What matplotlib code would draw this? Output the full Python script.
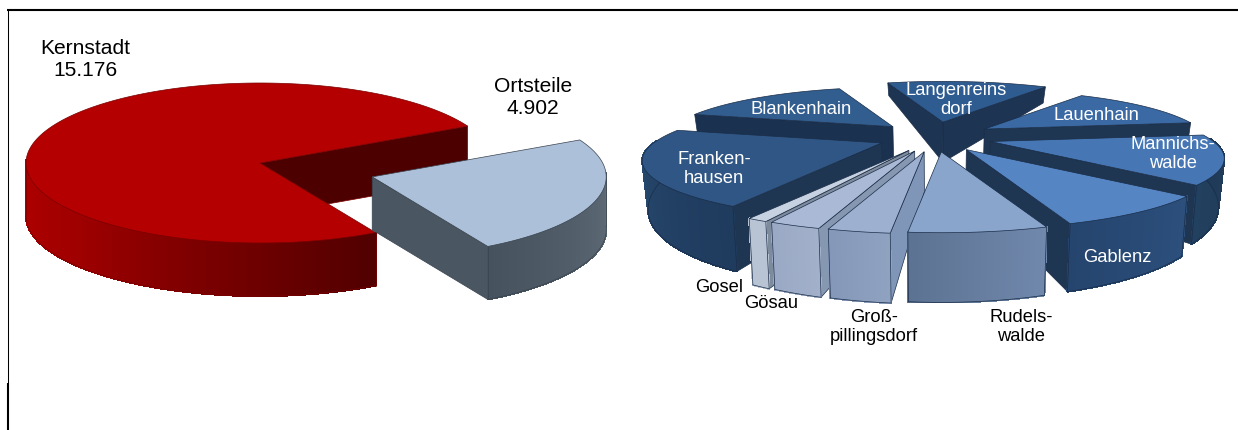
import numpy as np
import matplotlib
matplotlib.use("Agg")
import matplotlib.pyplot as plt
from matplotlib.colors import LinearSegmentedColormap as LSC
from matplotlib.collections import PolyCollection

plt.rcParams['font.family'] = ['Liberation Sans', 'DejaVu Sans']

# ---- data ----
main_labels = ["Ortsteile\n4.902", "Kernstadt\n15.176"]
main_values = [4902, 15176]
district_labels = ["Gosel", "Gösau", "Groß-\npillingsdorf", "Rudels-\nwalde", "Gablenz",
                   "Mannichs-\nwalde", "Lauenhain", "Langenreins\ndorf", "Blankenhain", "Franken-\nhausen"]
district_values = [48, 122, 143, 320, 402, 681, 661, 708, 776, 1041]

# ---- styles ----
main_top = ["#adc0da", "#b40000"]
main_cut = ["#4a5762", "#4d0000"]
main_rim = [["#46525d", "#5f6c78"], ["#b00000", "#a00000", "#780000", "#520000"]]
main_edge = ["#39434d", "#7a0000"]
main_explode = [(117, 49), (0, 0)]

district_top = ["#c6d1e1", "#aab9d6", "#9db0d0", "#8aa5cc", "#5585c3",
                "#4677b4", "#3a69a3", "#2f5c90", "#325d8f", "#2f5684"]
district_cut = ["#7e8b9c", "#8597b1", "#7f96b8", "#6f8ab0", "#1f3652",
                "#1f3652", "#1f3652", "#1d3452", "#1b3150", "#1f3652"]
district_rim = [["#b8c4d4", "#b8c4d4"], ["#99a8c4", "#a2b0ca"], ["#8497b8", "#8fa2c0"],
                ["#5c7292", "#7088ac"], ["#25456e", "#2c4f7c"], ["#22405f", "#1f3a58"],
                ["#1f3652", "#1f3652"], ["#1f3f66", "#2a5080"], ["#1f3652", "#1f3652"],
                ["#2f5684", "#244468", "#1f3b5e"]]
district_radius = [1.0, 1.0, 1.0, 0.99, 0.98, 0.93, 0.90, 0.96, 0.92, 0.95]
draw_order = [8, 7, 6, 5, 9, 4, 0, 1, 2, 3]

fig = plt.figure(figsize=(12.38, 4.30), dpi=100, facecolor="white")
ax = fig.add_axes([0, 0, 1, 1])
ax.set_xlim(0, 1238)
ax.set_ylim(430, 0)
ax.axis("off")


def draw_pie(values, start, centre, rx, ry, persp, d0, slope, shrink, explode, radius,
             tops, cuts, rims, edges, order):
    angles = start + np.concatenate([[0], np.cumsum(values)]) / np.sum(values) * 360.0
    cx, cy = centre

    def top_pt(apex, x, y):
        s = 1.0 / (1.0 + persp * y)
        return apex[0] + rx * x * s, apex[1] - ry * y * s

    def bot_pt(px, py, y):
        return cx + (px - cx) * shrink, py + d0 * (1.0 - slope * y)

    for i in order:
        a1, a2 = angles[i], angles[i + 1]
        mid = np.radians((a1 + a2) / 2)
        apex = (cx + explode[i][0] * np.cos(mid), cy - explode[i][1] * np.sin(mid))
        r = radius[i]
        th = np.radians(np.linspace(a1, a2, 160))
        xs, ys = r * np.cos(th), r * np.sin(th)
        P = [top_pt(apex, x, y) for x, y in zip(xs, ys)]
        B = [bot_pt(p[0], p[1], y) for p, y in zip(P, ys)]
        apex_b = bot_pt(apex[0], apex[1], 0.0)
        edge = edges[i]
        # cut faces that look towards the viewer
        if np.sin(np.radians(a1 - 90)) < 0:
            ax.fill(*zip(apex, P[0], B[0], apex_b), fc=cuts[i], ec=edge, lw=0.5, zorder=2)
        if np.sin(np.radians(a2 + 90)) < 0:
            ax.fill(*zip(apex, P[-1], B[-1], apex_b), fc=cuts[i], ec=edge, lw=0.5, zorder=2)
        # outer rim with gradient
        vis = np.where(np.sin(th) < 0.05)[0]
        if len(vis) > 1:
            cmap = LSC.from_list("r", rims[i])
            quads = [[P[k], P[k + 1], B[k + 1], B[k]] for k in vis[:-1]]
            cols = [cmap(t) for t in np.linspace(0, 1, len(quads))]
            ax.add_collection(PolyCollection(quads, facecolors=cols, edgecolors=cols,
                                             linewidths=0.8, antialiaseds=False, zorder=2))
            ax.plot(*zip(*[B[k] for k in vis]), color=edge, lw=0.5, zorder=2)
            ax.plot([P[vis[0]][0], B[vis[0]][0]], [P[vis[0]][1], B[vis[0]][1]], color=edge, lw=0.5, zorder=2)
            ax.plot([P[vis[-1]][0], B[vis[-1]][0]], [P[vis[-1]][1], B[vis[-1]][1]], color=edge, lw=0.5, zorder=2)
        # top face
        ax.fill(*zip(*([apex] + P)), fc=tops[i], ec=edge, lw=0.5, zorder=2)


draw_pie(main_values, -60.4, (260, 163), 234, 80, 0.0, 53, 0.0, 1.0, main_explode, [1.0, 1.0],
         main_top, main_cut, main_rim, main_edge, [1, 0])

n = len(district_values)
draw_pie(district_values, -118.5, (935, 137), 240, 55.6, 0.322, 40, 0.75, 0.98,
         [(58, 15)] * n, district_radius, district_top, district_cut, district_rim,
         ["#1a2d48"] * n, draw_order)

# ---- labels ----
for txt, (x, y) in zip(main_labels, [(533, 98), (85, 60)]):
    ax.text(x, y, txt, ha="center", va="center", fontsize=15.1, color="black", linespacing=1.2, zorder=5)

district_pos = [(719, 288), (771, 304), (874, 327), (1021, 327), (1117, 258),
                (1173, 154), (1096, 115), (956, 100), (801, 109), (714, 169)]
district_col = ["black", "black", "black", "black", "white",
                "white", "white", "white", "white", "white"]
for txt, (x, y), c in zip(district_labels, district_pos, district_col):
    ax.text(x, y, txt, ha="center", va="center", fontsize=13.2, color=c, linespacing=1.2, zorder=5)

# ---- frame ----
ax.plot([7, 1238], [10, 10], color="black", lw=1.5, zorder=6, solid_capstyle="butt")
ax.plot([7.5, 7.5], [10, 383], color="black", lw=0.75, zorder=6, solid_capstyle="butt")
ax.plot([8, 8], [383, 430], color="black", lw=1.5, zorder=6, solid_capstyle="butt")

fig.savefig("out.png", dpi=100, facecolor="white")
